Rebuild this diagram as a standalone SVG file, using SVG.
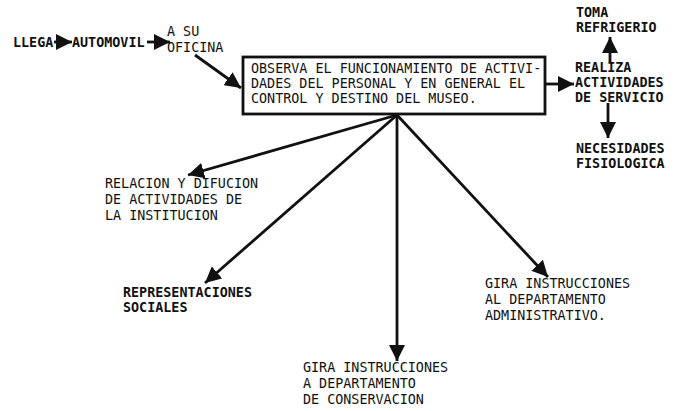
<svg xmlns="http://www.w3.org/2000/svg" width="681" height="411" viewBox="0 0 681 411">
<defs>
<style>
text{font-family:"DejaVu Sans Mono","Liberation Mono",monospace;font-size:13.4px;fill:#111;}
.b{font-weight:bold;}
.ln{stroke:#111;stroke-width:2.8;fill:none;}
</style>
<marker id="ah" viewBox="0 0 10 10" refX="10" refY="5" markerWidth="16" markerHeight="16" markerUnits="userSpaceOnUse" orient="auto">
<path d="M0,0 L10,5 L0,10 z" fill="#111"/>
</marker>
</defs>
<rect width="681" height="411" fill="#fff"/>
<g id="llega"><text x="13" y="47" class="b">LLEGA</text></g>
<g id="automovil"><text x="72" y="47" class="b">AUTOMOVIL</text></g>
<g id="oficina"><text x="167" y="36">A SU</text><text x="167" y="52">OFICINA</text></g>
<g id="observa">
<rect x="243" y="57" width="302" height="57" fill="none" stroke="#111" stroke-width="2.8"/>
<text x="251" y="73">OBSERVA EL FUNCIONAMIENTO DE ACTIVI-</text>
<text x="251" y="88">DADES DEL PERSONAL Y EN GENERAL EL</text>
<text x="251" y="103">CONTROL Y DESTINO DEL MUSEO.</text>
</g>
<g id="realiza"><text x="575" y="72" class="b">REALIZA</text><text x="575" y="87" class="b">ACTIVIDADES</text><text x="575" y="102" class="b">DE SERVICIO</text></g>
<g id="toma"><text x="576" y="17" class="b">TOMA</text><text x="576" y="32" class="b">REFRIGERIO</text></g>
<g id="necesidades"><text x="576" y="153" class="b">NECESIDADES</text><text x="576" y="168" class="b">FISIOLOGICA</text></g>
<g id="relacion"><text x="105" y="188">RELACION Y DIFUCION</text><text x="105" y="204">DE ACTIVIDADES DE</text><text x="105" y="220">LA INSTITUCION</text></g>
<g id="representaciones"><text x="123" y="297" class="b">REPRESENTACIONES</text><text x="123" y="312" class="b">SOCIALES</text></g>
<g id="conservacion"><text x="303" y="372">GIRA INSTRUCCIONES</text><text x="303" y="388">A DEPARTAMENTO</text><text x="303" y="404">DE CONSERVACION</text></g>
<g id="administrativo"><text x="485" y="288">GIRA INSTRUCCIONES</text><text x="485" y="304">AL DEPARTAMENTO</text><text x="485" y="320">ADMINISTRATIVO.</text></g>
<g id="connectors" class="ln">
<line x1="54" y1="42" x2="72" y2="42" marker-end="url(#ah)"/>
<line x1="147" y1="42" x2="170" y2="42" marker-end="url(#ah)"/>
<line x1="195" y1="55" x2="241" y2="88" marker-end="url(#ah)"/>
<line x1="545" y1="84" x2="574" y2="84" marker-end="url(#ah)"/>
<line x1="610" y1="62" x2="610" y2="37" marker-end="url(#ah)"/>
<line x1="608" y1="103" x2="608" y2="138" marker-end="url(#ah)"/>
<line x1="397" y1="115" x2="188" y2="175" marker-end="url(#ah)"/>
<line x1="397" y1="115" x2="205" y2="283" marker-end="url(#ah)"/>
<line x1="397" y1="115" x2="397" y2="361" marker-end="url(#ah)"/>
<line x1="397" y1="115" x2="548" y2="277" marker-end="url(#ah)"/>
</g>
</svg>
